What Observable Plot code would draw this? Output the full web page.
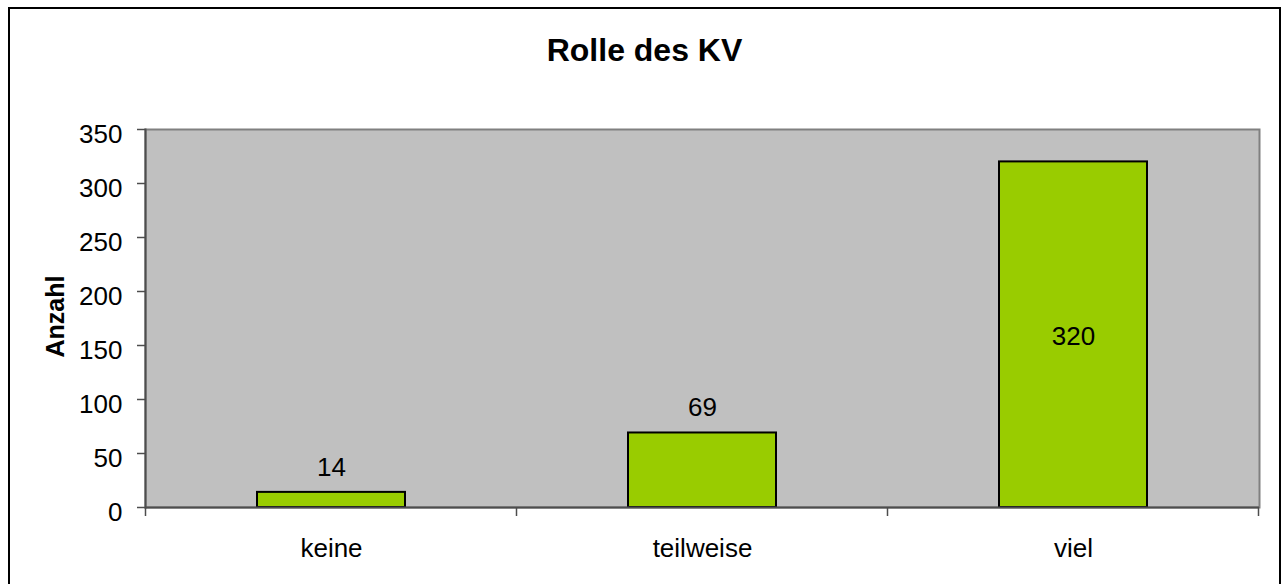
<!DOCTYPE html>
<html>
<head>
<meta charset="utf-8">
<script src="https://cdn.jsdelivr.net/npm/d3@7"></script>
<script src="https://cdn.jsdelivr.net/npm/@observablehq/plot@0.6"></script>
<style>
  html, body { margin: 0; padding: 0; background: #fff; }
  #wrap { position: relative; width: 1284px; height: 584px; overflow: hidden; font-family: "Liberation Sans", Arial, sans-serif; }
  #border { position: absolute; left: 8px; top: 7px; width: 1273px; height: 620px; border: 2px solid #000; box-sizing: border-box; }
  #title { position: absolute; left: 0; top: 34px; width: 1289px; text-align: center; font-size: 32px; line-height: 32px; font-weight: bold; color: #000; }
  #chart { position: absolute; left: 0; top: 0; }
</style>
</head>
<body>
<div id="wrap">
  <div id="border"></div>
  <div id="chart"></div>
  <div id="title">Rolle des KV</div>
</div>
<script>
const categories = ["keine", "teilweise", "viel"];
const counts = [14, 69, 320];
const yTicks = [0, 50, 100, 150, 200, 250, 300, 350];
const yLabel = "Anzahl";

const data = categories.map((c, i) => ({category: c, value: counts[i]}));

const font = "'Liberation Sans', Arial, sans-serif";

function boundaryTicks(index, scales, values, dims) {
  const x = scales.x;
  const step = typeof x.step === "function" ? x.step() : (x(categories[1]) - x(categories[0]));
  const bw = typeof x.bandwidth === "function" ? x.bandwidth() : step * 0.4;
  const yb = dims.height - dims.marginBottom;
  const g = d3.create("svg:g").attr("stroke", "#4d4d4d").attr("stroke-width", 1.5);
  const starts = categories.map(d => x(d) - (step - bw) / 2);
  starts.push(starts[starts.length - 1] + step);
  for (const px of starts) {
    g.append("line").attr("x1", px).attr("x2", px).attr("y1", yb).attr("y2", yb + 9);
  }
  return g.node();
}

const chart = Plot.plot({
  width: 1284,
  height: 584,
  marginLeft: 145,
  marginRight: 25,
  marginTop: 129,
  marginBottom: 77,
  style: {fontFamily: font, fontSize: "26px", color: "#000", background: "transparent", overflow: "visible"},
  x: {domain: categories, paddingInner: 0.6, paddingOuter: 0.3, align: 0.5, label: null},
  y: {domain: [0, 350], label: null},
  marks: [
    Plot.frame({fill: "#C0C0C0", stroke: "#808080", strokeWidth: 2}),
    Plot.barY(data, {x: "category", y: "value", fill: "#99CC00", stroke: "#000", strokeWidth: 2}),
    Plot.frame({anchor: "left", stroke: "#4d4d4d", strokeWidth: 2}),
    Plot.ruleY([0], {stroke: "#4d4d4d", strokeWidth: 2}),
    Plot.axisY({ticks: yTicks, tickSize: 8, fill: "none", stroke: "#4d4d4d", strokeWidth: 1.5, label: null}),
    Plot.axisY({ticks: yTicks, tickSize: 0, tickPadding: 23, dy: 5, label: null, fontSize: 26}),
    Plot.axisX({tickSize: 0, tickPadding: 31, label: null, fontSize: 26}),
    boundaryTicks,
    Plot.text(data.filter(d => d.value < 300), {x: "category", y: "value", text: d => String(d.value), dy: -25, fontSize: 26, fill: "#000"}),
    Plot.text(data.filter(d => d.value >= 300), {x: "category", y: d => d.value / 2, text: d => String(d.value), dy: 2, fontSize: 26, fill: "#000"}),
    Plot.text([yLabel], {text: d => d, frameAnchor: "left", textAnchor: "middle", rotate: -90, dx: -90, dy: -2, fontSize: 25, fontWeight: "bold", fill: "#000"})
  ]
});

document.getElementById("chart").appendChild(chart);
</script>
</body>
</html>
